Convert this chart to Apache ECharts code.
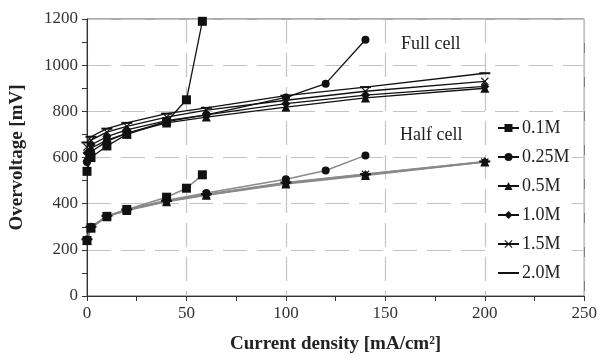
<!DOCTYPE html>
<html>
<head>
<meta charset="utf-8">
<script src="https://cdn.jsdelivr.net/npm/echarts@6/dist/echarts.min.js"></script>
<style>
  html, body { margin: 0; padding: 0; background: #fff; }
  #chart { width: 600px; height: 359px; }
</style>
</head>
<body>
<div id="chart"></div>
<script>
// concentrations (legend)
const names = ["0.1M", "0.25M", "0.5M", "1.0M", "1.5M", "2.0M"];

// current density points [mA/cm2]
const xShort = [0, 2, 10, 20, 40, 50, 58];        // 0.1M stops early
const xMid = [0, 2, 10, 20, 40, 60, 100, 120, 140]; // 0.25M
const xLong = [0, 2, 10, 20, 40, 60, 100, 140, 200];

// full cell overvoltage [mV]
const full01 = [540, 600, 650, 700, 755, 850, 1190];
const full025 = [580, 625, 670, 705, 755, 785, 860, 920, 1110];
const full05 = [600, 640, 675, 705, 750, 775, 818, 858, 900];
const full10 = [620, 655, 690, 720, 760, 785, 833, 870, 908];
const full15 = [645, 675, 710, 735, 775, 805, 848, 887, 930];
const full20 = [665, 690, 725, 750, 790, 815, 868, 905, 965];

// half cell overvoltage [mV]
const half01 = [240, 295, 345, 375, 428, 467, 525];
const half025 = [245, 300, 345, 375, 415, 446, 506, 544, 609];
const half05 = [240, 295, 343, 370, 408, 436, 485, 522, 580];
const half10 = [242, 297, 345, 372, 410, 438, 488, 525, 582];
const half15 = [244, 298, 346, 373, 411, 439, 490, 527, 580];
const half20 = [246, 300, 347, 375, 412, 441, 492, 528, 583];

const xs = [xShort, xMid, xLong, xLong, xLong, xLong];
const fulls = [full01, full025, full05, full10, full15, full20];
const halfs = [half01, half025, half05, half10, half15, half20];

const crossPath = "path://M0,1L1,0L5,4L9,0L10,1L6,5L10,9L9,10L5,6L1,10L0,9L4,5Z";
const dashPath = "path://M0,0H10V1H0Z";
const symbols = ["rect", "circle", "triangle", "diamond", crossPath, dashPath];
const sizes = [9, 8, 9, 9, 8, [11, 2]];
// legend icon for the plain-line entry: a centred bar, tiny corner dots fix the box
const barIcon = "path://M0,0H0.01V0.01H0Z M0,4H21V6H0Z M20.99,9.99H21V10H20.99Z";

const FONT = "Liberation Serif";

const pair = (x, y) => y.map((v, i) => [x[i], v]);

const series = [];
names.forEach((n, k) => {
  series.push({
    name: n,
    type: "line",
    data: pair(xs[k], fulls[k]),
    symbol: symbols[k],
    symbolSize: sizes[k],
    showSymbol: true,
    lineStyle: { color: "#111", width: 1.3 },
    itemStyle: { color: "#111" },
    emphasis: { disabled: true },
    z: 3
  });
});
names.forEach((n, k) => {
  series.push({
    name: n,
    type: "line",
    data: pair(xs[k], halfs[k]),
    symbol: symbols[k],
    symbolSize: sizes[k],
    lineStyle: { color: "#8a8a8a", width: 1.5 },
    itemStyle: { color: "#111" },
    emphasis: { disabled: true },
    z: 2
  });
});

const legendData = names.map(n =>
  n === "2.0M" ? { name: n, icon: barIcon, itemStyle: { color: "#111", borderWidth: 0 } } : n
);

const chart = echarts.init(document.getElementById("chart"));
chart.setOption({
  animation: false,
  backgroundColor: "#fff",
  grid: { left: 87, right: 15, top: 19, bottom: 63, show: true, borderColor: "#555", borderWidth: 1 },
  legend: {
    data: legendData,
    orient: "vertical",
    left: 495,
    top: 117,
    itemGap: 11,
    itemWidth: 21,
    itemHeight: 10,
    backgroundColor: "#fff",
    padding: [2, 2, 2, 2],
    textStyle: { fontFamily: FONT, fontSize: 18, lineHeight: 18, color: "#222", padding: [0, 0, 0, -2] }
  },
  xAxis: {
    type: "value",
    min: 0,
    max: 250,
    interval: 50,
    name: "Current density [mA/cm²]",
    nameLocation: "middle",
    nameGap: 39,
    nameTextStyle: { fontFamily: FONT, fontSize: 19, fontWeight: "bold", color: "#222" },
    axisLine: { lineStyle: { color: "#333", width: 1 } },
    axisTick: { show: true, length: 5, lineStyle: { color: "#333" } },
    minorTick: { show: true, splitNumber: 2, length: 5, lineStyle: { color: "#333" } },
    axisLabel: { fontFamily: FONT, fontSize: 17, color: "#333", margin: 9, formatter: v => String(v) },
    splitLine: { show: true, lineStyle: { color: "#c4c4c4", type: [24, 10], width: 1.2 } }
  },
  yAxis: {
    type: "value",
    min: 0,
    max: 1200,
    interval: 200,
    name: "Overvoltage [mV]",
    nameLocation: "middle",
    nameGap: 60,
    nameTextStyle: { fontFamily: FONT, fontSize: 19, fontWeight: "bold", color: "#222" },
    axisLine: { show: true, lineStyle: { color: "#333", width: 1 } },
    axisTick: { show: true, length: 5, lineStyle: { color: "#333" } },
    minorTick: { show: true, splitNumber: 2, length: 5, lineStyle: { color: "#333" } },
    axisLabel: { fontFamily: FONT, fontSize: 17, color: "#333", margin: 9, formatter: v => String(v) },
    splitLine: { show: true, lineStyle: { color: "#c4c4c4", type: [24, 10], width: 1.2 } }
  },
  graphic: [
    { type: "text", left: 401, top: 35, style: { text: "Full cell", font: "18px 'Liberation Serif'", fill: "#222" } },
    { type: "text", left: 400, top: 126, style: { text: "Half cell", font: "18px 'Liberation Serif'", fill: "#222" } }
  ],
  series: series
});
</script>
</body>
</html>
